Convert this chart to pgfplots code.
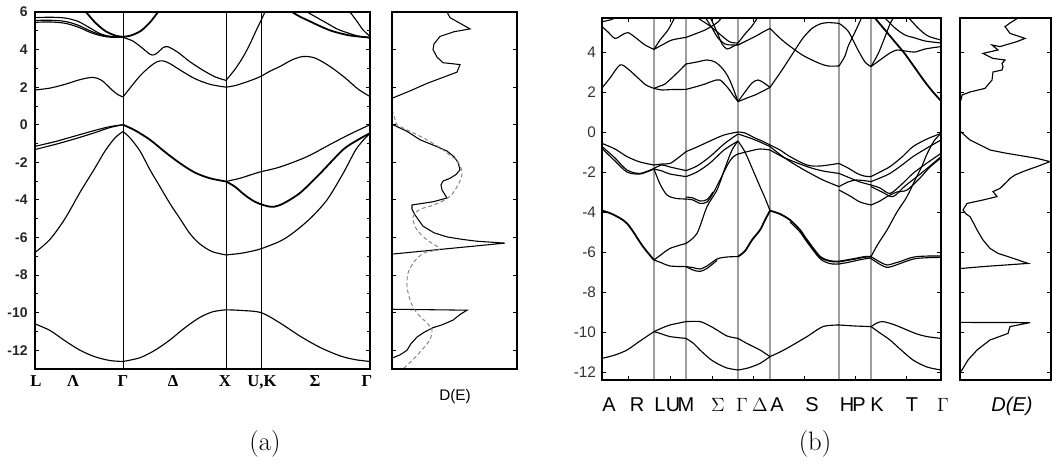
\documentclass[border=0pt]{standalone}
\usepackage{fontspec}
\usepackage{pgfplots}
\pgfplotsset{compat=1.18}
\newfontfamily\lsans{Liberation Sans}
\newfontfamily\lserif{Liberation Serif}
\begin{document}
\begin{tikzpicture}
\path[use as bounding box] (0,0) rectangle (789pt,351pt);
\pgfplotsset{
  bandax/.style={scale only axis, anchor=south west, axis on top, tick align=inside,
    axis line style={line width=0.9pt}, every tick/.style={black, line width=0.6pt},
    major tick length=3pt, minor tick length=2pt},
  b/.style={black, line width=0.85pt, smooth},
  bb/.style={black, line width=1.35pt, smooth},
  vl/.style={black!38, line width=1.3pt},
}
% ================= (a) band structure =================
\begin{axis}[bandax, at={(26.25pt,74.25pt)}, width=251.25pt, height=267.75pt,
  xmin=35, xmax=370, ymin=-13, ymax=6, xtick=\empty,
  ytick={-12,-10,-8,-6,-4,-2,0,2,4,6}, yticklabels={-12,-10,-8,-6,-4,-2,0,2,4,6},
  minor y tick num=1,
  yticklabel style={font=\lsans\bfseries\fontsize{10.5}{12}\selectfont, text=black!85, xshift=-2pt}]
\addplot[black, line width=0.6pt] coordinates {(123,-13) (123,6)};
\addplot[black, line width=0.6pt] coordinates {(226,-13) (226,6)};
\addplot[black, line width=0.6pt] coordinates {(261,-13) (261,6)};
% L - Gamma
\addplot[b] coordinates {(35,5.7) (50,5.72) (65,5.68) (78,5.5) (90,5.15) (100,4.85) (110,4.7) (123,4.65)};
\addplot[b] coordinates {(35,5.55) (50,5.56) (65,5.5) (78,5.3) (90,5.0) (100,4.8) (110,4.7) (123,4.65)};
\addplot[b] coordinates {(35,5.45) (50,5.47) (65,5.4) (78,5.2) (90,4.92) (100,4.75) (110,4.66) (123,4.65)};
\addplot[bb] coordinates {(86,6.0) (95,5.45) (105,5.0) (115,4.75) (123,4.68)};
\addplot[b] coordinates {(35,1.85) (50,1.95) (65,2.15) (80,2.4) (93,2.52) (102,2.35) (112,1.85) (118,1.6) (123,1.48)};
\addplot[b] coordinates {(35,-1.15) (55,-0.9) (75,-0.6) (95,-0.3) (110,-0.1) (123,0)};
\addplot[b] coordinates {(35,-1.32) (55,-1.05) (75,-0.75) (95,-0.42) (110,-0.15) (123,0)};
\addplot[b] coordinates {(35,-6.8) (50,-6.1) (65,-5.0) (80,-3.6) (95,-2.3) (105,-1.4) (115,-0.7) (123,-0.36)};
\addplot[b] coordinates {(35,-10.6) (50,-10.95) (65,-11.5) (80,-12.0) (95,-12.35) (110,-12.55) (123,-12.6)};
% Gamma - X
\addplot[bb] coordinates {(123,4.68) (131,4.75) (141,5.0) (150,5.45) (158,6.0)};
\addplot[b] coordinates {(123,4.65) (133,4.45) (143,4.05) (150,3.75) (154,3.72) (158,3.85) (163,4.1) (168,4.15) (178,3.85) (190,3.35) (203,2.9) (215,2.55) (226,2.36)};
\addplot[b] coordinates {(123,1.48) (130,1.95) (140,2.6) (150,3.1) (157,3.35) (163,3.4) (170,3.25) (182,2.85) (195,2.45) (210,2.15) (226,2.0)};
\addplot[bb] coordinates {(123,0) (135,-0.3) (150,-0.8) (165,-1.45) (180,-2.05) (195,-2.55) (210,-2.85) (226,-3.02)};
\addplot[b] coordinates {(123,-0.36) (130,-0.7) (140,-1.4) (150,-2.4) (160,-3.3) (170,-4.2) (180,-5.0) (190,-5.8) (200,-6.35) (212,-6.75) (226,-6.93)};
\addplot[b] coordinates {(123,-12.6) (140,-12.4) (155,-12.0) (170,-11.45) (185,-10.8) (200,-10.25) (213,-9.95) (226,-9.85)};
% X - K - Gamma
\addplot[b] coordinates {(226,2.36) (235,2.95) (243,3.6) (250,4.3) (256,5.0) (261,5.55) (265,6.0)};
\addplot[b] coordinates {(226,2.0) (235,2.08) (245,2.25) (253,2.4) (261,2.58) (270,2.85) (280,3.1) (292,3.45) (303,3.63) (315,3.55) (330,3.1) (345,2.5) (358,1.9) (370,1.5)};
\addplot[b] coordinates {(226,-3.02) (240,-2.85) (250,-2.68) (261,-2.5) (280,-2.25) (307,-1.7) (330,-1.05) (350,-0.5) (370,0)};
\addplot[bb] coordinates {(226,-3.02) (235,-3.3) (245,-3.75) (255,-4.1) (265,-4.3) (273,-4.37) (283,-4.2) (300,-3.63) (320,-2.6) (343,-1.33) (358,-0.8) (370,-0.45)};
\addplot[b] coordinates {(226,-6.93) (240,-6.85) (250,-6.75) (261,-6.6) (280,-6.2) (293,-5.76) (310,-5.0) (327,-4.0) (343,-2.6) (355,-1.4) (362,-0.9) (370,-0.45)};
\addplot[b] coordinates {(226,-9.85) (240,-9.88) (261,-10.0) (280,-10.55) (300,-11.25) (320,-11.85) (340,-12.3) (355,-12.5) (370,-12.6)};
\addplot[bb] coordinates {(292,6.0) (300,5.75) (310,5.5) (322,5.2) (333,4.97) (350,4.75) (370,4.64)};
\addplot[b] coordinates {(307,6.0) (317,5.7) (327,5.4) (337,5.1) (347,4.9) (358,4.72) (370,4.62)};
\addplot[b] coordinates {(350,6.0) (357,5.5) (363,5.05) (370,4.7)};
\end{axis}
% ================= (a) DOS =================
\begin{axis}[bandax, at={(294pt,74.25pt)}, width=93.75pt, height=267.75pt,
  xmin=0, xmax=125, ymin=-13, ymax=6, xtick=\empty,
  ytick={-12,-10,...,6}, yticklabels={}]
\addplot[black, line width=0.8pt] coordinates {(55,6.0) (58,5.7) (68,5.4) (78,5.1) (62,4.95) (48,4.7) (42,4.3) (41,4.0) (45,3.6) (51,3.3) (60,3.25) (68,3.2) (65,2.8) (50,2.5) (35,2.2) (18,1.8) (1,1.43) (0,1.43) (0,0) (1,0) (15,-0.35) (28,-0.8) (42,-1.1) (55,-1.4) (62,-1.7) (66,-2.0) (68,-2.4) (64,-2.65) (58,-2.85) (51,-3.0) (49,-3.2) (50,-3.47) (55,-3.9) (41,-4.1) (20,-4.27) (20,-4.5) (23,-4.8) (31,-5.4) (42,-5.75) (55,-5.97) (70,-6.1) (85,-6.2) (113,-6.3) (1,-6.88) (0,-6.88) (0,-9.82) (75,-9.87) (68,-10.1) (61,-10.4) (50,-10.65) (41,-10.8) (32,-11.05) (25,-11.3) (19,-11.65) (15,-12.0) (8,-12.25) (1,-12.4) (0,-12.45)};
\addplot[gray, densely dashed, line width=0.7pt, smooth] coordinates {(0,0.8) (3,0.3) (5,0) (20,-0.4) (35,-0.8) (50,-1.3) (60,-1.7) (65,-1.9) (69,-2.3) (70,-2.6) (68,-3.0) (65,-3.3) (60,-3.7) (53,-4.0) (40,-4.3) (28,-4.5) (22,-4.8) (21,-5.07) (25,-5.6) (35,-6.13) (48,-6.6) (40,-6.72) (31,-6.85) (22,-7.3) (16,-7.9) (15,-8.6) (18,-9.33) (22,-9.8) (28,-10.2) (35,-10.55) (40,-10.9) (39,-11.3) (36,-11.6) (28,-12.1) (21,-12.5) (11,-13.0)};
\end{axis}
% ================= (b) band structure =================
\begin{axis}[bandax, at={(451.5pt,66pt)}, width=254.25pt, height=271.5pt,
  xmin=602, xmax=941, ymin=-12.4, ymax=5.7,
  xtick={628,670,712,753,804,855,906}, xticklabels={},
  ytick={-12,-10,-8,-6,-4,-2,0,2,4}, yticklabels={-12,-10,-8,-6,-4,-2,0,2,4},
  yticklabel style={font=\lsans\fontsize{11.5}{13}\selectfont, text=black!80, xshift=-1pt}]
\addplot[vl] coordinates {(654,-12.4) (654,5.7)};
\addplot[vl] coordinates {(686,-12.4) (686,5.7)};
\addplot[vl] coordinates {(738,-12.4) (738,5.7)};
\addplot[vl] coordinates {(770,-12.4) (770,5.7)};
\addplot[vl] coordinates {(839,-12.4) (839,5.7)};
\addplot[vl] coordinates {(871,-12.4) (871,5.7)};
% conduction
\addplot[b] coordinates {(602,2.2) (610,2.7) (620,3.35) (628,3.15) (638,2.7) (646,2.35) (654,2.18)};
\addplot[b] coordinates {(602,5.27) (608,5.0) (615,4.68) (622,4.85) (628,4.97) (636,4.7) (645,4.35) (654,4.13)};
\addplot[b] coordinates {(602,5.52) (610,5.6) (617,5.75)};
\addplot[b] coordinates {(654,2.18) (662,2.1) (670,2.12) (686,2.13)};
\addplot[b] coordinates {(654,2.18) (660,2.3) (665,2.4) (675,2.85) (686,3.4)};
\addplot[b] coordinates {(654,4.13) (662,4.35) (672,4.6) (686,4.73)};
\addplot[b] coordinates {(654,4.13) (660,4.6) (668,5.1) (675,5.75)};
\addplot[b] coordinates {(686,2.13) (695,2.25) (705,2.4) (713,2.55) (720,2.6) (728,2.2) (733,1.85) (738,1.52)};
\addplot[b] coordinates {(686,3.4) (697,3.5) (707,3.6) (715,3.5) (722,3.2) (728,2.77) (733,2.2) (738,1.52)};
\addplot[b] coordinates {(686,4.73) (695,4.9) (705,5.1) (712,5.3) (718,5.5) (722,5.75)};
\addplot[b] coordinates {(705,5.75) (712,5.2) (718,4.7) (725,4.4) (732,4.35) (738,4.35)};
\addplot[b] coordinates {(710,5.75) (717,5.0) (722,4.4) (727,4.15) (732,4.25) (738,4.4)};
\addplot[b] coordinates {(696,5.75) (710,5.3) (722,4.8) (730,4.5) (738,4.45)};
\addplot[b] coordinates {(738,1.52) (745,2.0) (752,2.45) (758,2.6) (764,2.45) (770,2.23)};
\addplot[b] coordinates {(738,1.52) (748,1.72) (755,1.85) (762,2.02) (770,2.23)};
\addplot[b] coordinates {(738,4.35) (746,4.55) (755,4.77) (763,5.0) (770,5.18)};
\addplot[b] coordinates {(738,4.45) (745,4.9) (752,5.3) (758,5.75)};
\addplot[b] coordinates {(770,2.23) (782,3.1) (795,4.1) (803,4.7) (812,5.18) (820,5.4) (828,5.47) (839,5.43)};
\addplot[b] coordinates {(770,5.18) (782,4.6) (795,4.1) (804,3.8) (812,3.6) (820,3.42) (828,3.3) (839,3.3)};
\addplot[b] coordinates {(839,5.43) (848,5.05) (858,4.1) (865,3.5) (871,3.27)};
\addplot[b] coordinates {(839,3.3) (845,3.8) (848,4.27) (855,5.0) (862,5.75)};
\addplot[b] coordinates {(871,3.27) (880,3.6) (890,3.95) (897,4.1) (905,4.05) (915,4.0) (925,4.15) (941,4.27)};
\addplot[bb] coordinates {(874,5.75) (885,5.1) (895,4.5) (905,3.9) (915,3.2) (925,2.5) (933,2.0) (941,1.55)};
\addplot[b] coordinates {(884,5.75) (895,5.2) (905,4.85) (915,4.7) (925,4.55) (941,4.45)};
\addplot[b] coordinates {(871,3.27) (878,3.9) (883,4.5) (890,5.4) (894,5.75)};
\addplot[b] coordinates {(908,5.75) (918,5.2) (928,4.8) (941,4.6)};
% valence
\addplot[b] coordinates {(602,-0.57) (615,-0.85) (627,-1.23) (640,-1.5) (654,-1.65)};
\addplot[b] coordinates {(602,-0.73) (615,-1.3) (627,-1.9) (640,-2.07) (654,-1.82)};
\addplot[b] coordinates {(602,-0.82) (615,-1.45) (627,-2.0) (640,-2.1) (654,-1.85)};
\addplot[bb] coordinates {(602,-3.93) (612,-4.1) (627,-4.57) (643,-5.73) (654,-6.4)};
\addplot[b] coordinates {(602,-11.32) (615,-11.15) (627,-10.9) (640,-10.45) (654,-9.98)};
\addplot[b] coordinates {(654,-1.65) (662,-1.6) (670,-1.57) (678,-1.3) (686,-0.98)};
\addplot[b] coordinates {(654,-1.82) (662,-1.65) (670,-1.75) (686,-1.93)};
\addplot[b] coordinates {(654,-1.85) (662,-1.95) (670,-2.1) (686,-2.23)};
\addplot[b] coordinates {(654,-1.85) (660,-2.6) (667,-3.15) (676,-3.32) (686,-3.35)};
\addplot[b] coordinates {(654,-6.4) (662,-6.55) (670,-6.7) (686,-6.73)};
\addplot[b] coordinates {(654,-6.4) (662,-6.1) (670,-5.82) (686,-5.57)};
\addplot[b] coordinates {(654,-9.98) (662,-9.8) (670,-9.65) (686,-9.48)};
\addplot[b] coordinates {(654,-9.98) (662,-10.1) (670,-10.23) (686,-10.32)};
\addplot[b] coordinates {(686,-0.98) (697,-0.75) (710,-0.45) (724,-0.15) (738,0)};
\addplot[b] coordinates {(686,-1.93) (697,-1.7) (710,-1.23) (724,-0.6) (738,-0.1)};
\addplot[b] coordinates {(686,-2.23) (697,-2.0) (710,-1.55) (724,-0.9) (738,-0.45)};
\addplot[b] coordinates {(686,-3.35) (693,-3.4) (700,-3.57) (707,-3.5) (713,-3.07) (720,-2.4) (728,-1.6) (733,-1.25) (738,-1.1)};
\addplot[b] coordinates {(686,-3.25) (693,-3.3) (700,-3.45) (707,-3.38) (713,-3.0)};
\addplot[b] coordinates {(686,-5.57) (697,-5.07) (707,-3.73) (717,-2.9) (725,-1.8) (732,-0.9) (738,-0.45)};
\addplot[b] coordinates {(686,-6.73) (693,-6.78) (700,-6.85) (707,-6.7) (717,-6.35) (727,-6.25) (738,-6.23)};
\addplot[b] coordinates {(686,-6.73) (693,-6.9) (700,-6.97) (707,-6.82) (717,-6.42)};
\addplot[b] coordinates {(686,-9.48) (700,-9.48) (710,-9.7) (717,-9.9) (727,-10.2) (738,-10.32)};
\addplot[b] coordinates {(686,-10.32) (693,-10.55) (700,-10.9) (710,-11.35) (717,-11.57) (727,-11.8) (738,-11.9)};
\addplot[b] coordinates {(738,0) (745,-0.05) (755,-0.3) (762,-0.45) (770,-0.65)};
\addplot[b] coordinates {(738,-0.1) (750,-0.3) (760,-0.5) (770,-0.73)};
\addplot[b] coordinates {(738,-1.1) (750,-0.95) (760,-0.85) (770,-0.9)};
\addplot[b] coordinates {(738,-0.45) (745,-1.0) (752,-1.8) (760,-2.73) (765,-3.3) (770,-3.93)};
\addplot[bb] coordinates {(738,-6.23) (745,-5.95) (752,-5.4) (760,-4.9) (765,-4.4) (770,-3.93)};
\addplot[b] coordinates {(738,-10.32) (748,-10.6) (760,-10.9) (770,-11.23)};
\addplot[b] coordinates {(738,-11.9) (748,-11.8) (760,-11.57) (770,-11.23)};
\addplot[b] coordinates {(770,-0.65) (780,-0.9) (790,-1.23) (807,-1.65) (820,-1.7) (839,-1.57)};
\addplot[b] coordinates {(770,-0.73) (782,-1.2) (793,-1.57) (807,-1.98) (823,-2.4) (839,-2.73)};
\addplot[b] coordinates {(770,-0.9) (785,-1.3) (807,-1.73) (823,-1.95) (839,-2.07)};
\addplot[bb] coordinates {(770,-3.93) (780,-4.1) (790,-4.4) (800,-4.9) (807,-5.4) (820,-6.23) (830,-6.45) (839,-6.48)};
\addplot[b] coordinates {(790,-4.5) (800,-5.0) (807,-5.5) (820,-6.33) (830,-6.58) (839,-6.6)};
\addplot[b] coordinates {(770,-11.23) (780,-11.0) (790,-10.73) (807,-10.23) (823,-9.73) (839,-9.65)};
\addplot[b] coordinates {(839,-1.57) (848,-1.8) (857,-2.07) (864,-2.2) (871,-2.23)};
\addplot[b] coordinates {(839,-2.73) (848,-2.5) (857,-2.4) (871,-2.48)};
\addplot[b] coordinates {(839,-2.07) (850,-2.3) (860,-2.5) (871,-2.65)};
\addplot[b] coordinates {(839,-2.9) (850,-3.2) (860,-3.5) (871,-3.65)};
\addplot[bb] coordinates {(839,-6.48) (848,-6.4) (857,-6.32) (864,-6.25) (871,-6.23)};
\addplot[b] coordinates {(839,-6.6) (848,-6.52) (857,-6.42) (864,-6.35) (871,-6.3)};
\addplot[b] coordinates {(839,-9.65) (855,-9.7) (871,-9.73)};
\addplot[b] coordinates {(871,-2.23) (880,-2.0) (890,-1.73) (902,-1.25) (913,-0.73) (927,-0.35) (941,-0.07)};
\addplot[b] coordinates {(871,-2.48) (880,-2.3) (890,-2.07) (902,-1.65) (913,-1.23) (927,-0.8) (941,-0.4)};
\addplot[b] coordinates {(871,-2.65) (880,-2.8) (890,-3.07) (902,-2.6) (913,-2.07) (927,-1.55) (941,-1.07)};
\addplot[b] coordinates {(871,-2.73) (882,-3.0) (893,-3.23) (905,-2.7) (917,-2.23) (930,-1.7) (941,-1.23)};
\addplot[b] coordinates {(871,-3.65) (880,-3.45) (887,-3.23) (897,-3.0) (907,-2.9) (920,-2.3) (930,-1.75) (941,-1.3)};
\addplot[b] coordinates {(871,-6.23) (878,-5.6) (887,-4.9) (897,-4.0) (907,-3.23) (915,-2.4) (922,-1.7) (927,-1.1) (934,-0.45) (941,-0.07)};
\addplot[b] coordinates {(871,-6.23) (880,-6.5) (887,-6.65) (895,-6.55) (900,-6.48) (910,-6.3) (917,-6.23) (930,-6.2) (941,-6.2)};
\addplot[b] coordinates {(871,-6.33) (880,-6.62) (887,-6.77) (895,-6.67) (900,-6.58) (910,-6.4) (917,-6.32) (930,-6.28) (941,-6.27)};
\addplot[b] coordinates {(871,-9.73) (877,-9.55) (883,-9.48) (895,-9.65) (907,-9.9) (917,-10.1) (927,-10.23) (941,-10.32)};
\addplot[b] coordinates {(871,-9.73) (880,-10.05) (890,-10.4) (900,-10.85) (913,-11.4) (927,-11.75) (941,-11.9)};
\end{axis}
% ================= (b) DOS =================
\begin{axis}[bandax, at={(720pt,66pt)}, width=68.25pt, height=271.5pt,
  xmin=0, xmax=91, ymin=-12.4, ymax=5.7, xtick=\empty,
  ytick={-12,-10,...,4}, yticklabels={}]
\addplot[black, line width=0.85pt] coordinates {(58,5.7) (50,5.45) (45,5.27) (50,4.93) (65,4.68) (57,4.52) (40,4.27) (32,4.35) (38,4.1) (23,3.93) (33,3.68) (45,3.6) (42,3.43) (43,3.27) (42,3.1) (33,3.0) (32,2.6) (25,2.18) (10,2.0) (2,1.85) (1,1.6) (0,1.55) (0,0.05) (1,0) (10,-0.4) (20,-0.65) (30,-0.9) (45,-1.05) (57,-1.15) (77,-1.32) (90,-1.48) (77,-1.73) (70,-1.85) (63,-1.98) (55,-2.15) (50,-2.32) (47,-2.48) (40,-2.82) (33,-2.98) (37,-3.23) (23,-3.4) (7,-3.57) (3,-3.9) (6,-4.1) (10,-4.23) (14,-4.6) (17,-4.9) (23,-5.4) (30,-5.82) (38,-6.07) (48,-6.23) (68,-6.57) (23,-6.73) (2,-6.82) (0,-6.82) (0,-9.52) (70,-9.53) (50,-9.73) (48,-10.07) (30,-10.4) (17,-10.9) (8,-11.4) (2,-11.9) (0,-12.0)};
\end{axis}
% ================= labels =================
\begin{scope}[every node/.style={anchor=base, inner sep=0pt}]
\foreach \x/\t in {27/L, 54.75/Λ, 92.25/Γ, 129.75/Δ, 168.75/X, 196.5/{U,K}, 236.25/Σ, 275.25/Γ}
  \node[font=\lserif\bfseries\fontsize{12.5}{14}\selectfont] at (\x pt,61.5pt) {\t};
\node[font=\lsans\fontsize{11.5}{13}\selectfont] at (341.25pt,51pt) {D(E)};
\foreach \x/\t in {456.75/A, 477.75/R, 495/L, 504.75/U, 514.5/M, 582.75/A, 609/S, 635.25/H, 644.25/P, 657.75/K, 684/T}
  \node[font=\lsans\fontsize{15}{18}\selectfont] at (\x pt,42.75pt) {\t};
\foreach \x/\t in {538.5/\Sigma, 556.5/\Gamma, 570/\Delta, 707.25/\Gamma}
  \node[font=\fontsize{15}{18}\selectfont] at (\x pt,42.75pt) {$\t$};
\node[font=\lsans\itshape\fontsize{15}{18}\selectfont] at (759pt,42.75pt) {D(E)};
\node[font=\fontsize{20}{24}\selectfont] at (198.75pt,13.5pt) {(a)};
\node[font=\fontsize{20}{24}\selectfont] at (611.25pt,13.5pt) {(b)};
\end{scope}
\end{tikzpicture}
\end{document}
